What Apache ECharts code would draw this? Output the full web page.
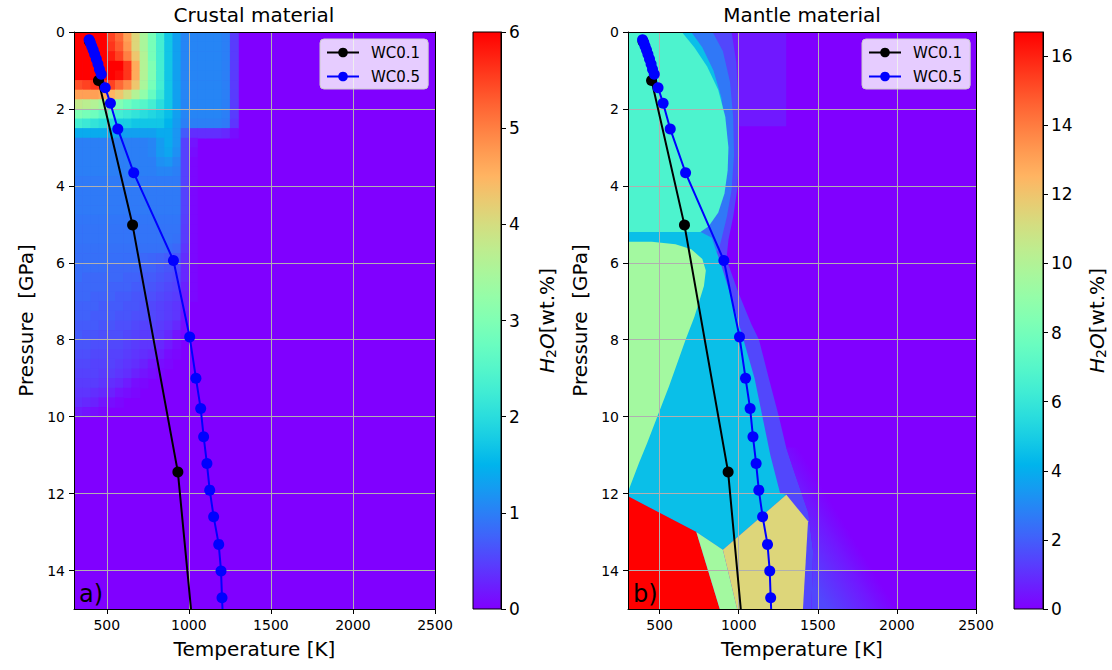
<!DOCTYPE html>
<html>
<head>
<meta charset="utf-8">
<script src="https://cdn.jsdelivr.net/npm/echarts@6/dist/echarts.min.js"></script>
<style>
  html, body { margin: 0; padding: 0; background: #ffffff; }
  #chart { width: 1112px; height: 670px; }
</style>
</head>
<body>
<div id="chart"></div>
<script>
// ---- P-T paths (temperature K, pressure GPa) ----
const wc01Path = [[395, 0.25], [449, 1.26], [657, 5.02], [933, 11.44], [1013, 15.0]];
const wc05Path = [
  [392, 0.20], [400, 0.28], [408, 0.37], [417, 0.47], [426, 0.58], [436, 0.70],
  [446, 0.83], [455, 0.97], [466, 1.10], [490, 1.45], [522, 1.85], [567, 2.52],
  [664, 3.66], [906, 5.94], [1005, 7.93], [1043, 9.00], [1072, 9.79], [1090, 10.52],
  [1110, 11.22], [1127, 11.91], [1151, 12.60], [1182, 13.32], [1196, 14.01],
  [1202, 14.71], [1205, 15.0]
];

// ---- axis ticks ----
const tempTicks = [500, 1000, 1500, 2000, 2500];
const pressTicks = [0, 2, 4, 6, 8, 10, 12, 14];
const crustBarTicks = [0, 1, 2, 3, 4, 5, 6];
const mantleBarTicks = [0, 2, 4, 6, 8, 10, 12, 14, 16];
const crustMax = 6;
const mantleMax = 16.7;

// ---- crustal H2O content (wt.%) on a 50 K x 0.25 GPa mesh ----
// columns start at 300 K, rows start at 0 GPa; unlisted cells hold no water
const crustT0 = 300, crustDT = 50, crustP0 = 0, crustDP = 0.25;
const crustRows = [
  [6,6,6,6,5.5,5.2,4.7,4.1,3.5,2.9,2.3,1.7,1.3,1.05,1.05,1.05,1.05,1.05,1.0,0.45],
  [6,6,6,6,5.6,5.3,4.8,4.1,3.5,2.9,2.3,1.7,1.3,1.05,1.05,1.05,1.05,1.05,1.0,0.45],
  [6,6,6,6,5.8,5.5,5.0,4.3,3.6,2.9,2.3,1.7,1.3,1.05,1.05,1.05,1.05,1.05,1.0,0.45],
  [6,6,6,6,6,6,5.6,4.6,3.6,3.0,2.3,1.7,1.3,1.05,1.05,1.05,1.05,1.05,1.0,0.45],
  [6,6,6,6,6,5.9,5.6,4.6,3.6,3.0,2.3,1.7,1.3,1.05,1.05,1.05,1.05,1.05,1.0,0.45],
  [5.4,5.5,5.6,5.6,5.5,5.2,4.9,4.3,3.5,2.9,2.3,1.7,1.3,1.05,1.05,1.05,1.05,1.05,1.0,0.45],
  [4.7,4.7,4.7,4.6,4.5,4.3,4.0,3.6,3.2,2.7,2.2,1.7,1.3,1.05,1.05,1.05,1.05,1.05,1.0,0.45],
  [3.8,3.7,3.6,3.4,3.2,3.0,2.8,2.6,2.5,2.3,2.0,1.7,1.3,1.05,1.05,1.05,1.05,1.05,1.0,0.45],
  [3.0,2.9,2.8,2.6,2.5,2.3,2.2,2.1,2.0,1.9,1.8,1.6,1.3,1.05,1.05,1.05,1.05,1.05,1.0,0.45],
  [2.3,2.2,2.1,2.0,1.9,1.8,1.8,1.7,1.7,1.7,1.7,1.5,1.25,1.0,1.0,1.0,1.0,1.0,0.95,0.4],
  [1.4,1.4,1.4,1.4,1.4,1.3,1.3,1.3,1.3,1.3,1.4,1.4,1.2,0.7,0.35,0.35,0.35,0.35,0.3,0.1],
  [1,1,1,1,1,1,1,1,1,1.05,1.25,1.4,1.2,0.5,0.15],
  [1,1,1,1,1,1,1,1,1,1.05,1.25,1.35,1.15,0.5,0.1],
  [1,1,1,1,1,1,1,1,1,1,1.15,1.2,1.05,0.5,0.05],
  [1,1,1,1,1,1,1,1,1,1,1.05,1.05,1.0,0.5,0.05],
  [0.95,0.95,0.95,0.95,0.95,0.95,0.95,0.95,0.95,0.95,0.95,0.95,0.95,0.5,0.05],
  [0.95,0.95,0.95,0.95,0.95,0.95,0.95,0.95,0.95,0.95,0.95,0.95,0.95,0.5,0.05],
  [0.95,0.95,0.95,0.95,0.95,0.95,0.95,0.95,0.95,0.95,0.95,0.95,0.95,0.5,0.05],
  [0.95,0.95,0.95,0.95,0.95,0.95,0.95,0.95,0.95,0.95,0.95,0.95,0.95,0.5,0.05],
  [0.92,0.92,0.92,0.92,0.92,0.92,0.92,0.92,0.92,0.92,0.92,0.92,0.92,0.48,0.05],
  [0.9,0.9,0.9,0.9,0.9,0.9,0.9,0.9,0.9,0.9,0.9,0.9,0.9,0.45,0.05],
  [0.9,0.9,0.9,0.9,0.9,0.9,0.9,0.9,0.9,0.9,0.9,0.9,0.88,0.45,0.05],
  [0.88,0.88,0.88,0.88,0.88,0.88,0.88,0.88,0.88,0.88,0.88,0.85,0.8,0.4,0.05],
  [0.87,0.87,0.87,0.87,0.86,0.86,0.85,0.85,0.8,0.78,0.75,0.7,0.65,0.35,0.05],
  [0.85,0.85,0.85,0.85,0.8,0.8,0.8,0.8,0.75,0.75,0.7,0.65,0.6,0.3,0.05],
  [0.85,0.8,0.8,0.8,0.8,0.8,0.75,0.75,0.7,0.7,0.65,0.6,0.55,0.3,0.05],
  [0.8,0.8,0.8,0.8,0.75,0.75,0.75,0.7,0.7,0.65,0.6,0.55,0.5,0.25,0.05],
  [0.8,0.8,0.75,0.75,0.75,0.7,0.7,0.65,0.65,0.6,0.55,0.5,0.45,0.2,0.05],
  [0.75,0.75,0.75,0.7,0.7,0.7,0.65,0.65,0.6,0.55,0.5,0.45,0.4,0.2],
  [0.75,0.75,0.7,0.7,0.7,0.65,0.65,0.6,0.6,0.55,0.5,0.45,0.4,0.15],
  [0.7,0.7,0.7,0.65,0.65,0.6,0.6,0.55,0.5,0.5,0.45,0.4,0.3,0.1],
  [0.7,0.65,0.65,0.6,0.6,0.6,0.55,0.5,0.45,0.45,0.4,0.3,0.15,0.05],
  [0.65,0.65,0.6,0.6,0.55,0.55,0.5,0.45,0.4,0.4,0.3,0.2,0.1],
  [0.6,0.6,0.55,0.55,0.5,0.5,0.45,0.4,0.35,0.3,0.2,0.1,0.05],
  [0.55,0.55,0.5,0.5,0.5,0.45,0.4,0.35,0.25,0.15,0.1,0.05],
  [0.5,0.5,0.5,0.45,0.45,0.4,0.35,0.25,0.15,0.1,0.05],
  [0.45,0.45,0.45,0.4,0.35,0.3,0.2,0.1,0.05],
  [0.4,0.4,0.35,0.3,0.25,0.15,0.1,0.05],
  [0.35,0.3,0.25,0.15,0.1,0.05],
  [0.2,0.15,0.1,0.05]
];

// ---- mantle H2O content (wt.%): stability fields as T-P outlines, drawn in order ----
const mantleFaint = { v: 0.5, pts: [[955,0],[1300,0],[1300,2.45],[1003,2.45]] };
const mantleRim = { v: 1.5, pts: [[300,0],[955,0],[985,0.8],[1000,2.0],[1003,3.2],[990,4.1],[965,4.8],[935,5.4],[925,5.8],[930,6.0],[1000,6.8],[1080,7.6],[1128,8.0],[1190,9.0],[1254,10.0],[1300,10.8],[1340,11.3],[1440,12.5],[1470,13.5],[1460,15],[300,15]] };
const mantleFade = { v: [1.5, 0], from: [1440,14.2], to: [1760,13.4], pts: [[1300,10.8],[1340,11.3],[1440,12.5],[1470,13.5],[1460,15],[2100,15],[1420,10.8]] };
const mantleBlue = { v: 2.6, pts: [[300,0],[835,0],[900,0.5],[945,1.3],[965,2.2],[970,3.2],[955,4.1],[925,4.8],[890,5.4],[870,5.7],[300,5.7]] };
const mantleCyanCap = { v: 4.5, pts: [[300,0],[700,0],[770,0.4],[840,1.0],[890,1.7],[915,2.5],[300,2.5]] };
const mantleTurq = { v: 6.7, pts: [[300,0],[640,0],[720,0.4],[800,0.9],[870,1.5],[915,2.2],[935,3.0],[930,3.6],[910,4.2],[870,4.7],[810,5.05],[740,5.25],[300,5.28]] };
const mantleCyan = { v: 4.5, pts: [[300,5.2],[760,5.2],[830,5.35],[850,5.6],[885,6.0],[960,7.0],[1030,8.0],[1100,9.0],[1150,10.0],[1200,11.0],[1262,12.0],[1301,12.03],[900,13.46],[732,13.0],[300,12.07]] };
const mantleGreen = { v: 9.5, pts: [[300,5.45],[450,5.45],[600,5.52],[700,5.65],[770,5.9],[792,6.2],[780,6.6],[720,7.4],[664,8.0],[560,9.2],[485,10.0],[420,10.7],[370,11.2],[300,11.95]] };
const mantleRed = { v: 16.7, pts: [[300,12.07],[732,13.0],[880,15],[300,15]] };
const mantleWedge = { v: 9.5, pts: [[732,13.0],[900,13.46],[990,15],[880,15]] };
const mantleKhaki = { v: 11.4, pts: [[900,13.46],[1301,12.03],[1438,12.72],[1406,15],[990,15]] };
const mantleFields = [mantleFaint, mantleRim, mantleFade, mantleBlue, mantleCyanCap,
  mantleTurq, mantleCyan, mantleGreen, mantleRed, mantleWedge, mantleKhaki];

// ---- matplotlib "rainbow" colour map ----
function rainbow(x) {
  x = Math.max(0, Math.min(1, x));
  const r = Math.min(1, Math.abs(2 * x - 0.5));
  const g = Math.max(0, Math.sin(Math.PI * x));
  const b = Math.max(0, Math.cos(Math.PI * x / 2));
  return 'rgb(' + Math.round(r * 255) + ',' + Math.round(g * 255) + ',' + Math.round(b * 255) + ')';
}

const FONT = 'DejaVu Sans';
const GRID_GRAY = '#b0b0b0';
const plainNumber = function (v) { return String(v); };

// crust mesh -> [T0, T1, P0, P1, value]
const crustCells = [];
crustRows.forEach(function (row, i) {
  row.forEach(function (v, j) {
    if (v > 0) {
      crustCells.push([crustT0 + j * crustDT, crustT0 + (j + 1) * crustDT,
                       crustP0 + i * crustDP, crustP0 + (i + 1) * crustDP, v]);
    }
  });
});

function renderCell(params, api) {
  const a = api.coord([api.value(0), api.value(2)]);
  const b = api.coord([api.value(1), api.value(3)]);
  return {
    type: 'rect',
    shape: { x: Math.min(a[0], b[0]), y: Math.min(a[1], b[1]),
             width: Math.abs(b[0] - a[0]) + 0.7, height: Math.abs(b[1] - a[1]) + 0.7 },
    style: { fill: rainbow(api.value(4) / crustMax) }
  };
}

function renderField(params, api) {
  const f = mantleFields[api.value(2)];
  const pts = f.pts.map(function (p) { return api.coord(p); });
  let fill;
  if (Array.isArray(f.v)) {
    const a = api.coord(f.from), b = api.coord(f.to);
    const stops = [];
    for (let k = 0; k <= 10; k++) {
      const t = k / 10;
      stops.push({ offset: t, color: rainbow((f.v[0] + (f.v[1] - f.v[0]) * t) / mantleMax) });
    }
    fill = new echarts.graphic.LinearGradient(a[0], a[1], b[0], b[1], stops, true);
  } else {
    fill = rainbow(f.v / mantleMax);
  }
  return { type: 'polygon', shape: { points: pts }, style: { fill: fill, stroke: null } };
}

function barRenderer(vmax) {
  return function (params, api) {
    const a = api.coord([0, 0]);
    const b = api.coord([1, vmax]);
    const stops = [];
    for (let k = 0; k <= 24; k++) stops.push({ offset: k / 24, color: rainbow(k / 24) });
    return {
      type: 'rect',
      shape: { x: a[0], y: b[1], width: b[0] - a[0], height: a[1] - b[1] },
      style: { fill: new echarts.graphic.LinearGradient(0, 1, 0, 0, stops), stroke: '#000', lineWidth: 1 }
    };
  };
}

function mainX(gridIndex) {
  return {
    gridIndex: gridIndex, type: 'value', min: 300, max: 2500, position: 'bottom', z: 3,
    name: 'Temperature [K]', nameLocation: 'middle', nameGap: 30,
    nameTextStyle: { fontSize: 20, color: '#000', fontFamily: FONT },
    axisLine: { show: true, onZero: false, lineStyle: { color: '#000', width: 1 } },
    axisTick: { show: true, length: 5, customValues: tempTicks, lineStyle: { color: '#000' } },
    axisLabel: { customValues: tempTicks, formatter: plainNumber, fontSize: 14, color: '#000', margin: 9, fontFamily: FONT },
    splitLine: { show: true, lineStyle: { color: GRID_GRAY, width: 1 } }
  };
}
function spineX(gridIndex) {
  return {
    gridIndex: gridIndex, type: 'value', min: 300, max: 2500, position: 'top', z: 3,
    axisLine: { show: true, onZero: false, lineStyle: { color: '#000', width: 1 } },
    axisTick: { show: false }, axisLabel: { show: false }, splitLine: { show: false }
  };
}
function mainY(gridIndex) {
  return {
    gridIndex: gridIndex, type: 'value', min: 0, max: 15, inverse: true, position: 'left', z: 3,
    name: 'Pressure  [GPa]', nameLocation: 'middle', nameGap: 38, nameRotate: 90,
    nameTextStyle: { fontSize: 20, color: '#000', fontFamily: FONT },
    axisLine: { show: true, onZero: false, lineStyle: { color: '#000', width: 1 } },
    axisTick: { show: true, length: 5, customValues: pressTicks, lineStyle: { color: '#000' } },
    axisLabel: { customValues: pressTicks, formatter: plainNumber, fontSize: 14, color: '#000', margin: 9, fontFamily: FONT },
    splitLine: { show: true, lineStyle: { color: GRID_GRAY, width: 1 } }
  };
}
function spineY(gridIndex) {
  return {
    gridIndex: gridIndex, type: 'value', min: 0, max: 15, inverse: true, position: 'right', z: 3,
    axisLine: { show: true, onZero: false, lineStyle: { color: '#000', width: 1 } },
    axisTick: { show: false }, axisLabel: { show: false }, splitLine: { show: false }
  };
}
function barX(gridIndex) {
  return { gridIndex: gridIndex, type: 'value', min: 0, max: 1, show: false };
}
function barY(gridIndex, vmax, ticks, gap) {
  return {
    gridIndex: gridIndex, type: 'value', min: 0, max: vmax, position: 'right', z: 3,
    name: '{i|H}{s|2}{i|O}[wt.%]', nameLocation: 'middle', nameGap: gap, nameRotate: 90,
    nameTextStyle: {
      fontSize: 20, color: '#000', fontFamily: FONT,
      rich: {
        i: { fontSize: 20, fontStyle: 'italic', fontFamily: FONT, color: '#000' },
        s: { fontSize: 14, fontFamily: FONT, color: '#000', padding: [9, 0, 0, 0] }
      }
    },
    axisLine: { show: true, onZero: false, lineStyle: { color: '#000', width: 1 } },
    axisTick: { show: true, length: 5, customValues: ticks, lineStyle: { color: '#000' } },
    axisLabel: { customValues: ticks, formatter: plainNumber, fontSize: 17, color: '#000', margin: 8, fontFamily: FONT },
    splitLine: { show: false }
  };
}

function pathSeries(name, path, color, xi, yi) {
  const last = path.length - 1;
  return {
    name: name, type: 'line', xAxisIndex: xi, yAxisIndex: yi, z: 5,
    data: path.map(function (p, k) {
      return k === last ? { value: p, symbol: 'none' } : { value: p };
    }),
    symbol: 'circle', symbolSize: 11, showSymbol: true, clip: true,
    lineStyle: { color: color, width: 2 }, itemStyle: { color: color },
    emphasis: { disabled: true }
  };
}

function legendAt(left) {
  return {
    left: left, top: 39, orient: 'vertical', z: 6,
    data: ['WC0.1', 'WC0.5'],
    backgroundColor: 'rgba(255,255,255,0.8)', borderColor: '#cccccc', borderWidth: 1, borderRadius: 4,
    padding: [6, 8, 5, 6], itemWidth: 32, itemHeight: 12, itemGap: 9,
    textStyle: { fontSize: 15, color: '#000', fontFamily: FONT, padding: [0, 0, 0, 7] },
    selectedMode: false
  };
}

const chart = echarts.init(document.getElementById('chart'), null, { renderer: 'svg' });
chart.setOption({
  animation: false,
  backgroundColor: '#ffffff',
  textStyle: { fontFamily: FONT },
  grid: [
    { left: 74, top: 32, width: 361, height: 577, show: true, backgroundColor: rainbow(0), borderWidth: 0 },
    { left: 628, top: 32, width: 348, height: 577, show: true, backgroundColor: rainbow(0), borderWidth: 0 },
    { left: 473, top: 32, width: 28, height: 577 },
    { left: 1014, top: 32, width: 29, height: 577 }
  ],
  xAxis: [mainX(0), mainX(1), spineX(0), spineX(1), barX(2), barX(3)],
  yAxis: [mainY(0), mainY(1), spineY(0), spineY(1),
          barY(2, crustMax, crustBarTicks, 34), barY(3, mantleMax, mantleBarTicks, 42)],
  legend: [legendAt(320), legendAt(862)],
  graphic: [
    { type: 'text', x: 254, y: 15, style: { text: 'Crustal material', font: '20px "DejaVu Sans"', fill: '#000', textAlign: 'center', textVerticalAlign: 'middle' } },
    { type: 'text', x: 802, y: 15, style: { text: 'Mantle material', font: '20px "DejaVu Sans"', fill: '#000', textAlign: 'center', textVerticalAlign: 'middle' } },
    { type: 'text', x: 79, y: 594, z: 10, style: { text: 'a)', font: '24px "DejaVu Sans"', fill: '#000', textAlign: 'left', textVerticalAlign: 'middle' } },
    { type: 'text', x: 633, y: 594, z: 10, style: { text: 'b)', font: '24px "DejaVu Sans"', fill: '#000', textAlign: 'left', textVerticalAlign: 'middle' } }
  ],
  series: [
    { type: 'custom', name: 'crust field', xAxisIndex: 0, yAxisIndex: 0, z: 1, silent: true, clip: true,
      renderItem: renderCell, encode: { x: [0, 1], y: [2, 3] }, data: crustCells },
    { type: 'custom', name: 'mantle field', xAxisIndex: 1, yAxisIndex: 1, z: 1, silent: true, clip: true,
      renderItem: renderField, encode: { x: 0, y: 1 },
      data: mantleFields.map(function (f, i) { return [f.pts[0][0], f.pts[0][1], i]; }) },
    { type: 'custom', name: 'crust bar', xAxisIndex: 4, yAxisIndex: 4, z: 1, silent: true,
      renderItem: barRenderer(crustMax), data: [[0, 0]] },
    { type: 'custom', name: 'mantle bar', xAxisIndex: 5, yAxisIndex: 5, z: 1, silent: true,
      renderItem: barRenderer(mantleMax), data: [[0, 0]] },
    pathSeries('WC0.1', wc01Path, '#000000', 0, 0),
    pathSeries('WC0.5', wc05Path, '#0000ff', 0, 0),
    pathSeries('WC0.1', wc01Path, '#000000', 1, 1),
    pathSeries('WC0.5', wc05Path, '#0000ff', 1, 1)
  ]
});
</script>
</body>
</html>
